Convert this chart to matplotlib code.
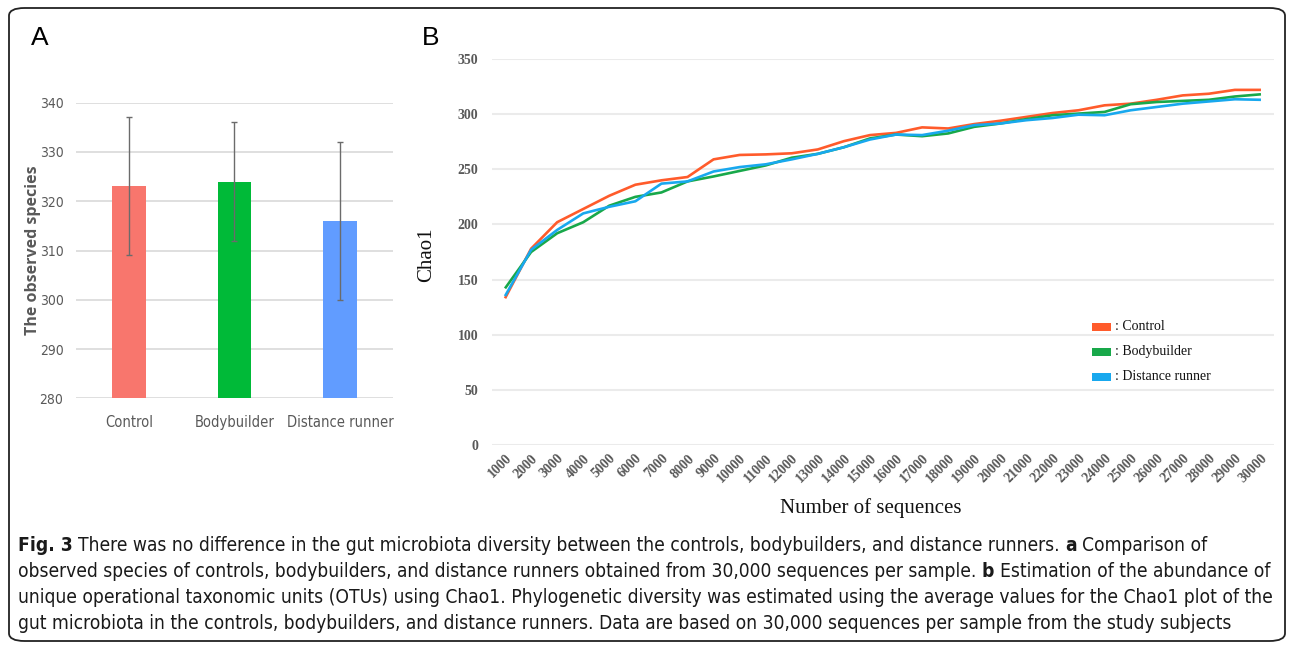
import matplotlib
matplotlib.use("Agg")
import matplotlib.pyplot as plt
from matplotlib.patches import FancyBboxPatch, Rectangle
from matplotlib import font_manager as fm
import warnings
warnings.filterwarnings("ignore")

# ---------------- data ----------------
groups = ["Control", "Bodybuilder", "Distance runner"]
observed = [323, 324, 316]
observed_err = [14, 12, 16]
bar_colors = ["#F8766D", "#00BA38", "#619CFF"]

seq_labels = ["1000", "2000", "3000", "4000", "5000", "6000", "7000", "8000", "9000", "10000",
              "11000", "12000", "13000", "14000", "15000", "16000", "17000", "18000", "19000", "20000",
              "21000", "22000", "23000", "24000", "25000", "26000", "27000", "28000", "29000", "30000"]
chao_control = [133, 178, 202, 214, 226, 236, 240, 243, 259, 263, 263.5, 264.5, 268, 275.5, 281,
                283, 288, 287, 291, 294, 297.5, 301, 303.5, 308, 309.5, 313, 317, 318.5, 322, 322]
chao_body = [142, 175, 192, 202, 217, 225, 229, 239, 243.5, 248.5, 253.5, 260.5, 264, 270, 278,
             281.5, 280, 282.5, 288.5, 291.5, 295.5, 299, 300.5, 302, 309, 311, 312, 313, 316, 318]
chao_runner = [135, 177, 195, 210, 216, 221, 237, 239, 248, 252, 254.5, 259, 264, 270, 277,
               281.5, 281, 285, 290, 291.5, 294.5, 296.5, 299.5, 299, 303.5, 306.5, 309.5, 311.5, 313.5, 313]
line_names = [": Control", ": Bodybuilder", ": Distance runner"]
line_colors = ["#FF5B2B", "#18A84A", "#18A8EE"]

caption_lines = [
    [("Fig. 3", True), ("There was no difference in the gut microbiota diversity between the controls, bodybuilders, and distance runners.", False), ("a", True), ("Comparison of", False)],
    [("observed species of controls, bodybuilders, and distance runners obtained from 30,000 sequences per sample.", False), ("b", True), ("Estimation of the abundance of", False)],
    [("unique operational taxonomic units (OTUs) using Chao1. Phylogenetic diversity was estimated using the average values for the Chao1 plot of the", False)],
    [("gut microbiota in the controls, bodybuilders, and distance runners. Data are based on 30,000 sequences per sample from the study subjects", False)],
]

# ---------------- fonts ----------------
def condensed_props(weight="normal"):
    """Use a condensed sans face when one is installed, else a regular sans."""
    for fam in ["DejaVu Sans", "Liberation Sans Narrow"]:
        try:
            fp = fm.FontProperties(family=fam, stretch="condensed", weight=weight)
            path = fm.findfont(fp, fallback_to_default=False)
            if "ondensed" in path or "Narrow" in path:
                return dict(family=fam, fontstretch="condensed", fontweight=weight)
        except Exception:
            pass
    return dict(family="Open Sans", fontweight=weight)

COND = condensed_props("normal")
COND_B = condensed_props("bold")
IS_COND = "fontstretch" in COND

# ---------------- figure ----------------
W, H = 1292, 645
fig = plt.figure(figsize=(W / 100, H / 100), dpi=100)
fig.patch.set_facecolor("white")

def fx(px):
    return px / W

def fy(py):
    return 1 - py / H

fig.patches.append(FancyBboxPatch((fx(9), fy(641)), fx(1285) - fx(9), fy(8) - fy(641),
                                  boxstyle="round,pad=0,rounding_size=0.012",
                                  transform=fig.transFigure, fill=False,
                                  edgecolor="#222222", linewidth=1.3))

serif = ["Liberation Serif", "DejaVu Serif"]
grey = "#595959"

# ---------------- panel A ----------------
axA = fig.add_axes([fx(76), fy(398.3), fx(393) - fx(76), fy(102.7) - fy(398.3)])
xa = list(range(len(groups)))
axA.bar(xa, observed, width=0.32, color=bar_colors, zorder=2)
axA.errorbar(xa, observed, yerr=observed_err, fmt="none", ecolor="#6B6B6B",
             elinewidth=1.0, capsize=2.2, capthick=1.0, zorder=3)
axA.set_ylim(280, 340)
axA.set_xlim(-0.5, 2.5)
axA.set_yticks([280, 290, 300, 310, 320, 330, 340])
axA.yaxis.grid(True, color="#D9D9D9", linewidth=1.2, zorder=0)
axA.set_axisbelow(True)
for s in axA.spines.values():
    s.set_visible(False)
axA.tick_params(length=0, colors=grey)
axA.tick_params(axis="y", pad=9)
axA.tick_params(axis="x", pad=12)
axA.set_xticks(xa)
axA.set_xticklabels(groups)
for lab in axA.get_yticklabels():
    lab.set_fontfamily(COND["family"])
    if IS_COND:
        lab.set_fontstretch("condensed")
    lab.set_fontsize(10 if IS_COND else 9)
    lab.set_color(grey)
for lab in axA.get_xticklabels():
    lab.set_fontfamily(COND["family"])
    if IS_COND:
        lab.set_fontstretch("condensed")
    lab.set_fontsize(10.5 if IS_COND else 9)
    lab.set_color(grey)
fig.text(fx(33), fy(250), "The observed species", rotation=90, ha="center", va="center",
         fontsize=11.5, fontweight="bold", color=grey, family=["Open Sans", "DejaVu Sans"])
fig.text(fx(40), fy(38), "A", ha="center", va="center", fontsize=19,
         family=["Liberation Sans", "DejaVu Sans"], color="black")

# ---------------- panel B ----------------
axB = fig.add_axes([fx(492), fy(445), fx(1274) - fx(492), fy(59) - fy(445)])
xb = list(range(len(seq_labels)))
for vals, c in zip([chao_control, chao_body, chao_runner], line_colors):
    axB.plot(xb, vals, color=c, linewidth=1.9, solid_capstyle="butt", zorder=3)
axB.set_xlim(-0.5, len(seq_labels) - 0.5)
axB.set_ylim(0, 350)
axB.set_yticks([0, 50, 100, 150, 200, 250, 300, 350])
axB.yaxis.grid(True, color="#EBEBEB", linewidth=1.5, zorder=0)
axB.set_axisbelow(True)
for s in axB.spines.values():
    s.set_visible(False)
axB.tick_params(length=0, colors=grey)
axB.tick_params(axis="y", pad=10)
axB.tick_params(axis="x", pad=5)
axB.set_xticks(xb)
axB.set_xticklabels(seq_labels, rotation=45, ha="right", rotation_mode="anchor")
for lab in axB.get_xticklabels() + axB.get_yticklabels():
    lab.set_fontfamily(serif)
    lab.set_fontweight("bold")
    lab.set_fontsize(10)
    lab.set_color(grey)
fig.text(fx(427), fy(255), "Chao1", rotation=90, ha="center", va="center",
         fontsize=15, family=serif, color="#111111")
fig.text(fx(871), fy(508), "Number of sequences", ha="center", va="center",
         fontsize=15, family=serif, color="#111111")
fig.text(fx(431), fy(38), "B", ha="center", va="center", fontsize=19,
         family=["Liberation Sans", "DejaVu Sans"], color="black")

for i, (name, c) in enumerate(zip(line_names, line_colors)):
    yc = 327 + 25 * i
    fig.patches.append(Rectangle((fx(1092), fy(yc + 4)), fx(19), fy(yc - 4) - fy(yc + 4),
                                 transform=fig.transFigure, facecolor=c, edgecolor="none"))
    fig.text(fx(1115), fy(yc), name, ha="left", va="center", fontsize=10,
             family=serif, color="#111111")

# ---------------- caption ----------------
renderer = fig.canvas.get_renderer()

def cap_kw(bold, size):
    kw = dict(COND_B if bold else COND)
    kw["fontsize"] = size
    return kw

def text_width(s, size, bold):
    t = fig.text(0, 0, s, **cap_kw(bold, size))
    w = t.get_window_extent(renderer).width
    t.remove()
    return w

ref = caption_lines[2][0][0]
base = 10.0
wref = text_width(ref, base, False)
cap_size = base * (1275 - 18) / wref
space_w = text_width("x x", cap_size, False) - text_width("xx", cap_size, False)

baselines = [551, 577, 603, 629]
for runs, yb in zip(caption_lines, baselines):
    xpx = 18
    for s, bold in runs:
        t = fig.text(fx(xpx), fy(yb), s, ha="left", va="baseline", color="#1a1a1a",
                     **cap_kw(bold, cap_size))
        xpx += t.get_window_extent(renderer).width + space_w

fig.savefig("out.png", dpi=100, facecolor="white")
